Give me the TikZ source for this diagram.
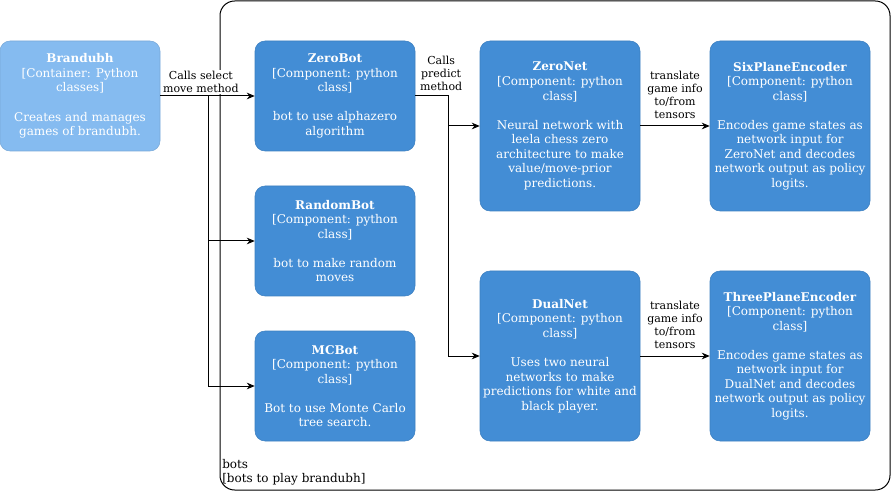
\documentclass[tikz,border=0pt]{standalone}
\usepackage{fontspec}
\setmainfont{DejaVu Serif}
\usetikzlibrary{arrows.meta}
\definecolor{compblue}{HTML}{438DD5}
\definecolor{compline}{HTML}{3C7FC0}
\definecolor{contblue}{HTML}{85BBF0}
\definecolor{contline}{HTML}{78A8D8}
\begin{document}
\begin{tikzpicture}[x=0.75pt,y=-0.75pt,
		comp/.style={draw=compline,fill=compblue,text=white,rounded corners=7.5pt,minimum width=120pt,minimum height=82.5pt,align=center,font=\fontsize{9}{10.9}\selectfont,inner sep=1pt},
		cont/.style={comp,draw=contline,fill=contblue},
		tall/.style={minimum height=127.5pt},
		flow/.style={line width=0.75pt,-{Stealth[length=6pt,width=5pt]}},
		lbl/.style={fill=white,align=center,font=\fontsize{8.25}{9.75}\selectfont,inner sep=1pt}]
		\useasboundingbox (0,0) rectangle (891,491);
		\draw [line width=0.75pt,rounded corners=11pt] (220,1) rectangle (890,490);
		\node [anchor=north west,align=left,inner sep=0pt,font=\fontsize{9}{10.5}\selectfont] (botslabel) at (222,459) {bots\\{[bots to play brandubh]}};
		\node [cont] (brandubh) at (80,96) {\textbf{Brandubh}\\{[Container: Python}\\classes]\\[10.9pt]Creates and manages\\games of brandubh.};
		\node [comp] (zerobot) at (335,96) {\textbf{ZeroBot}\\{[Component: python}\\class]\\[10.9pt]bot to use alphazero\\algorithm};
		\node [comp] (randombot) at (335,241) {\textbf{RandomBot}\\{[Component: python}\\class]\\[10.9pt]bot to make random\\moves};
		\node [comp] (mcbot) at (335,386) {\textbf{MCBot}\\{[Component: python}\\class]\\[10.9pt]Bot to use Monte Carlo\\tree search.};
		\node [comp,tall] (zeronet) at (560,126) {\textbf{ZeroNet}\\{[Component: python}\\class]\\[10.9pt]Neural network with\\leela chess zero\\architecture to make\\value/move-prior\\predictions.};
		\node [comp,tall] (dualnet) at (560,356) {\textbf{DualNet}\\{[Component: python}\\class]\\[10.9pt]Uses two neural\\networks to make\\predictions for white and\\black player.};
		\node [comp,tall] (sixplane) at (790,126) {\textbf{SixPlaneEncoder}\\{[Component: python}\\class]\\[10.9pt]Encodes game states as\\network input for\\ZeroNet and decodes\\network output as policy\\logits.};
		\node [comp,tall] (threeplane) at (790,356) {\textbf{ThreePlaneEncoder}\\{[Component: python}\\class]\\[10.9pt]Encodes game states as\\network input for\\DualNet and decodes\\network output as policy\\logits.};
		\coordinate (fork1) at (208,96);
		\coordinate (fork2) at (448,96);
		\draw [flow] (brandubh) -- (fork1) |- (randombot);
		\draw [flow] (brandubh) -- (fork1) |- (mcbot);
		\draw [flow] (brandubh) -- node[lbl,above=1pt,pos=0.43] {Calls select\\move method} (zerobot);
		\draw [flow] (zerobot) -- (fork2) |- (dualnet);
		\draw [flow] (zerobot) -- node[lbl,above=3pt,pos=0.79] {Calls\\predict\\method} (fork2) |- (zeronet);
		\draw [flow] (zeronet) -- node[lbl,above=4.5pt] {translate\\game info\\to/from\\tensors} (sixplane);
		\draw [flow] (dualnet) -- node[lbl,above=4.5pt] {translate\\game info\\to/from\\tensors} (threeplane);
	\end{tikzpicture}
\end{document}
